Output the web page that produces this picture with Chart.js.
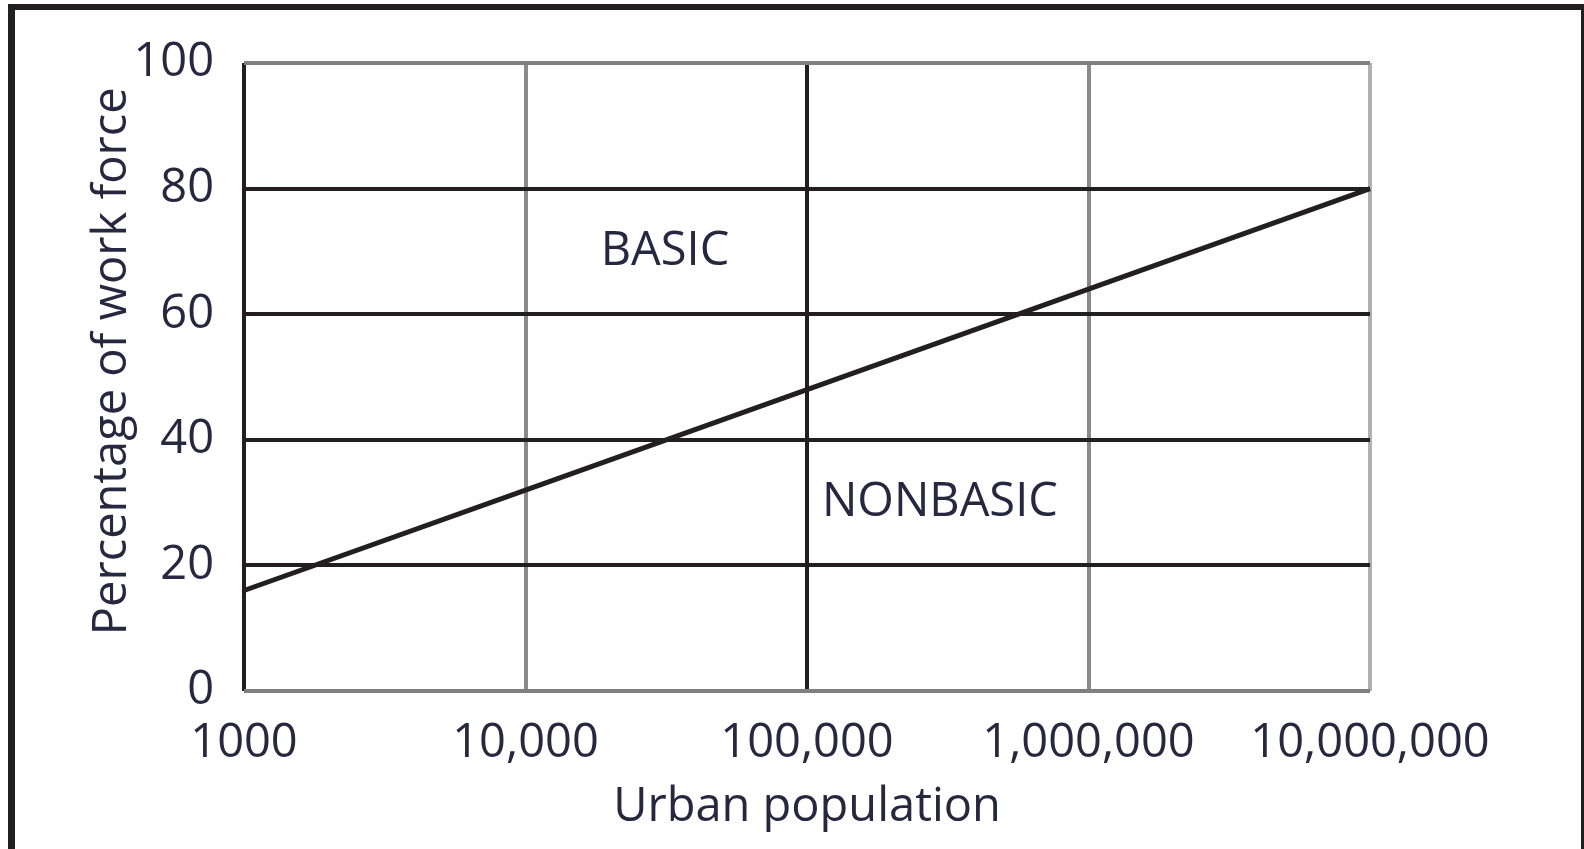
<!DOCTYPE html>
<html>
<head>
<meta charset="utf-8">
<script src="https://cdn.jsdelivr.net/npm/chart.js@4"></script>
<style>
  html, body { margin: 0; padding: 0; background: #fff; overflow: hidden; }
  #wrap { position: relative; width: 1584px; height: 849px; }
  #frame {
    position: absolute; left: 8px; top: 4px; width: 1576px; height: 900px;
    box-sizing: border-box; border: 7px solid #231f20; border-top-width: 6px;
    border-right-width: 3px; border-bottom: none; pointer-events: none;
  }
</style>
</head>
<body>
<div id="wrap">
  <canvas id="chart" width="1584" height="849"></canvas>
  <div id="frame"></div>
</div>
<script>
const population = [1000, 10000, 100000, 1000000, 10000000];
const basicShare = [16, 32, 48, 64, 80];
const xTicks = [1000, 10000, 100000, 1000000, 10000000];
const xTickLabels = ["1000", "10,000", "100,000", "1,000,000", "10,000,000"];
const yTicks = [0, 20, 40, 60, 80, 100];
const regionLabels = ["BASIC", "NONBASIC"];
const regionX = [18500, 113000];
const regionY = [70, 30];
const yTitle = "Percentage of work force";

const INK = "#231f20";
const TEXT = "#262840";
const FONT = "'Open Sans', sans-serif";

const xGridColors = [INK, "#8a8a8a", INK, "#8a8a8a", "#b0b0b0"];
const yGridColors = ["#7f7f7f", INK, INK, INK, INK, "#808080"];

// region names inside the plot and the y title (a bit above the axis centre, as in the print)
const extraText = {
  id: "extraText",
  afterDatasetsDraw(chart) {
    const ctx = chart.ctx;
    const xs = chart.scales.x, ys = chart.scales.y;
    ctx.save();
    ctx.font = "47px " + FONT;
    ctx.fillStyle = TEXT;
    ctx.textBaseline = "middle";
    ctx.textAlign = "left";
    regionLabels.forEach((t, i) => {
      ctx.fillText(t, xs.getPixelForValue(regionX[i]), ys.getPixelForValue(regionY[i]));
    });
    ctx.translate(113, ys.getPixelForValue(52.5));
    ctx.rotate(-Math.PI / 2);
    ctx.textAlign = "center";
    ctx.fillText(yTitle, 0, 0);
    ctx.restore();
  }
};

new Chart(document.getElementById("chart"), {
  type: "line",
  data: {
    datasets: [{
      data: population.map((p, i) => ({ x: p, y: basicShare[i] })),
      borderColor: INK,
      borderWidth: 5,
      pointRadius: 0,
      tension: 0,
      clip: false
    }]
  },
  options: {
    responsive: false,
    animation: false,
    layout: { padding: { left: 0, top: 63, right: 214, bottom: 0 } },
    plugins: { legend: { display: false }, tooltip: { enabled: false } },
    scales: {
      x: {
        type: "logarithmic",
        min: 1000,
        max: 10000000,
        afterBuildTicks: s => { s.ticks = xTicks.map(v => ({ value: v })); },
        afterFit: s => { s.height = 158; },
        border: { display: false },
        grid: {
          drawTicks: false,
          lineWidth: 4,
          color: c => xGridColors[c.index] || INK
        },
        ticks: {
          padding: 24,
          maxRotation: 0,
          autoSkip: false,
          color: TEXT,
          font: { family: FONT, size: 47 },
          callback: (v, i) => xTickLabels[i]
        },
        title: {
          display: true,
          text: "Urban population",
          color: TEXT,
          font: { family: FONT, size: 47, lineHeight: 1.2 },
          padding: { top: 0, bottom: 13 }
        }
      },
      y: {
        min: 0,
        max: 100,
        afterBuildTicks: s => { s.ticks = yTicks.map(v => ({ value: v })); },
        afterFit: s => { s.width = 244; },
        border: { display: false },
        grid: {
          drawTicks: false,
          lineWidth: 4,
          color: c => yGridColors[c.index] || INK
        },
        ticks: {
          padding: 30,
          color: TEXT,
          font: { family: FONT, size: 47 }
        }
      }
    }
  },
  plugins: [extraText]
});
</script>
</body>
</html>
